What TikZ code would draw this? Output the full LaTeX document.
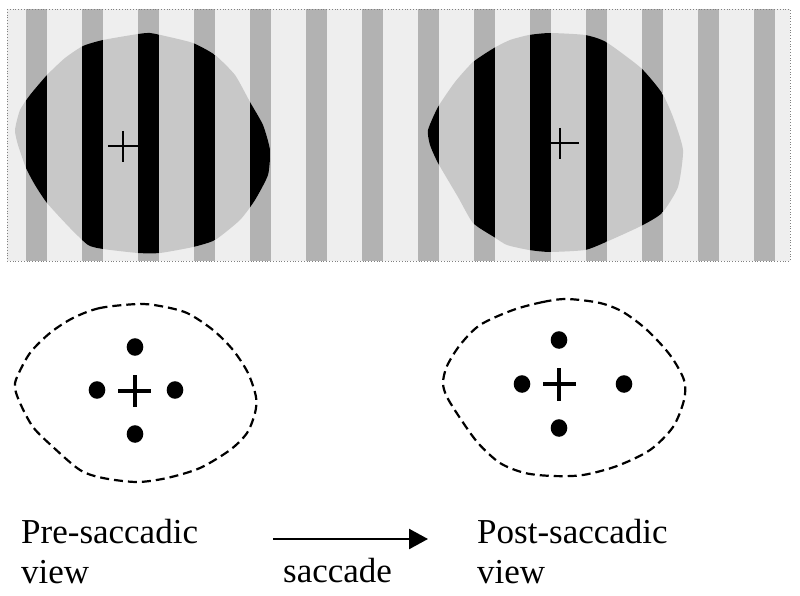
\documentclass[tikz,border=0pt]{standalone}
\usepackage{fontspec}
\setmainfont{Liberation Serif}
\usetikzlibrary{arrows.meta}
\definecolor{lightbg}{RGB}{238,238,238}
\definecolor{darkstripe}{RGB}{178,178,178}
\definecolor{blobgray}{RGB}{200,200,200}
\tikzset{
  thinplus/.style={line width=2pt, black},
  boldplus/.style={line width=4.5pt, black},
  dotmark/.style={fill=black, draw=none},
  outline/.style={line width=2.2pt, dash pattern=on 9pt off 5pt, black},
  label/.style={font=\fontsize{35}{40}\selectfont, inner sep=0pt, align=left, anchor=base west},
}
\newcommand{\blobA}{(15,130) (20,110) (30,95) (47,75) (65,58) (83,46) (103,40) (138,34) (150,33) (165,36) (193,43) (215,55) (235,75) (250,102) (263,125) (270,150) (268,175) (255,200) (240,220) (215,240) (193,247) (160,253) (138,253) (103,249) (88,245) (70,228) (47,203) (35,185) (26,168) (18,145)}
\newcommand{\blobB}{(428,130) (438,107) (455,82) (473,62) (494,48) (510,40) (529,35) (550,33) (585,35) (606,42) (641,68) (662,93) (673,117) (683,150) (678,187) (662,213) (641,226) (606,242) (585,250) (550,252) (529,250) (507,245) (494,237) (473,223) (458,197) (438,163) (430,145)}
\begin{document}
\begin{tikzpicture}[x=1pt,y=-1pt]
\useasboundingbox (0,0) rectangle (800,596);
% striped background
\fill[lightbg] (7,9) rectangle (790,261);
\foreach \k in {0,...,13}{
  \fill[darkstripe] ({26+56*\k},9) rectangle ({47+56*\k},261);
}
\draw[gray, dotted, line width=0.8pt] (7,9) rectangle (790,261);
% blob A
\fill[blobgray] plot[smooth cycle, tension=0.35] coordinates {\blobA};
\begin{scope}
  \clip plot[smooth cycle, tension=0.35] coordinates {\blobA};
  \foreach \k in {0,...,4}{
    \fill[black] ({26+56*\k},0) rectangle ({47+56*\k},270);
  }
\end{scope}
\draw[thinplus] (108,146) -- (138,146) (123,131) -- (123,162);
% blob B
\fill[blobgray] plot[smooth cycle, tension=0.35] coordinates {\blobB};
\begin{scope}
  \clip plot[smooth cycle, tension=0.35] coordinates {\blobB};
  \foreach \k in {7,...,11}{
    \fill[black] ({26+56*\k},0) rectangle ({47+56*\k},270);
  }
\end{scope}
\draw[thinplus] (545,143) -- (579,143) (560,128) -- (560,159);
% lower dashed outlines
\draw[outline] plot[smooth cycle, tension=0.5] coordinates {(138,304) (100,308) (73,318) (50,333) (30,353) (17,377) (15,388) (20,403) (33,427) (53,447) (80,470) (103,478) (137,482) (167,478) (200,468) (230,450) (247,433) (255,413) (256,397) (248,373) (233,350) (213,330) (187,313) (160,306)};
\draw[outline] plot[smooth cycle, tension=0.5] coordinates {(567,299) (543,302) (513,310) (480,325) (460,345) (447,366) (443,383) (447,397) (460,418) (478,443) (500,463) (525,473) (553,476) (583,475) (617,466) (650,450) (673,427) (684,400) (684,380) (670,355) (647,330) (623,312) (600,303)};
% dots and plus, pre-saccadic
\fill[dotmark] (135,347) ellipse [x radius=8.3, y radius=8.8];
\fill[dotmark] (97,390) ellipse [x radius=8.3, y radius=8.8];
\fill[dotmark] (175,390) ellipse [x radius=8.3, y radius=8.8];
\fill[dotmark] (135,434) ellipse [x radius=8.3, y radius=8.8];
\draw[boldplus] (118,391) -- (151,391) (135,375) -- (135,407);
% dots and plus, post-saccadic
\fill[dotmark] (559,340) ellipse [x radius=8.3, y radius=8.8];
\fill[dotmark] (522,384) ellipse [x radius=8.3, y radius=8.8];
\fill[dotmark] (624,384) ellipse [x radius=8.3, y radius=8.8];
\fill[dotmark] (559,428) ellipse [x radius=8.3, y radius=8.8];
\draw[boldplus] (543,384) -- (576,384) (559,368) -- (559,401);
% labels
\node[label] (pre) at (21,583) {Pre-saccadic\\view};
\node[label] (post) at (477,583) {Post-saccadic\\view};
\node[label] (sacc) at (283,582) {saccade};
\coordinate (arrS) at (273,539);
\coordinate (arrE) at (428,539);
\draw[line width=2.5pt, -{Triangle[length=19pt,width=20pt]}] (arrS) -- (arrE);
\end{tikzpicture}
\end{document}
